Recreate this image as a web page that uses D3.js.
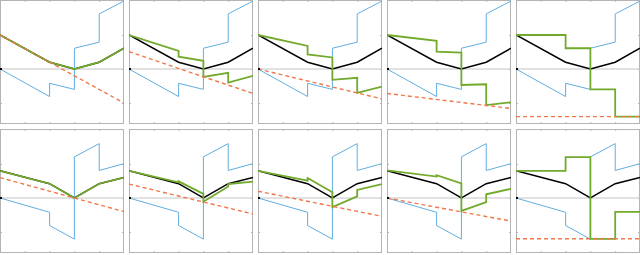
<!DOCTYPE html>
<html><head><meta charset="utf-8">
<script src="https://cdn.jsdelivr.net/npm/d3@7"></script>
<style>html,body{margin:0;padding:0;background:#fff;overflow:hidden}</style>
</head><body>
<svg id="chart" width="640" height="255"></svg>
<script>
// x nodes for step lines (jumps at x=2,3,4)
const stepX = [0, 2, 2, 3, 3, 4, 4, 5];
const smoothX = [0, 2, 3, 4, 5];
const redX = [0, 5];
const xTicks = [1, 2, 3, 4];
const yTicks = [-1, 0, 1];

// top row shared curves
const blackTop = [1.0, 0.2, 0.0, 0.2, 0.61];
const blueTop = [0, -0.81, -0.42, -0.6, 0.61, 0.79, 1.62, 2.0];
// bottom row shared curves
const blackBottom = [0.8, 0.42, 0.0, 0.42, 0.6];
const blueBottom = [0, -0.42, -0.81, -1.21, 1.21, 1.6, 0.81, 1.01];

// per-panel green (step) series
const greenTop = [
  [1.0, 0.2, 0.2, 0.0, 0.0, 0.2, 0.2, 0.61],
  [1.0, 0.53, 0.36, 0.24, -0.23, -0.11, -0.40, -0.20],
  [1.0, 0.68, 0.43, 0.34, -0.32, -0.26, -0.70, -0.52],
  [1.0, 0.83, 0.51, 0.48, -0.47, -0.45, -1.06, -0.98],
  [1.0, 1.0, 0.61, 0.61, -0.6, -0.6, -1.4, -1.4]
];
const greenBottom = [
  [0.8, 0.42, 0.42, 0.0, 0.0, 0.42, 0.42, 0.6],
  [0.8, 0.46, 0.49, 0.12, -0.11, 0.34, 0.41, 0.48],
  [0.8, 0.51, 0.59, 0.17, -0.27, 0.05, 0.24, 0.41],
  [0.81, 0.63, 0.67, 0.43, -0.38, -0.12, 0.11, 0.27],
  [0.8, 0.8, 1.2, 1.2, -1.2, -1.2, -0.41, -0.41]
];
// per-panel red dashed lines (values at x=0 and x=5)
const redTop = [[1.0, -1.0], [0.51, -0.72], [0.0, -0.88], [-0.72, -1.16], [-1.4, -1.4]];
const redBottom = [[0.6, -0.4], [0.41, -0.47], [0.2, -0.54], [0.0, -0.68], [-1.2, -1.2]];

const svg = d3.select("#chart");
const W = 124, H = 124, pitch = 129;
const x = d3.scaleLinear().domain([0, 5]).range([0, W]);
const y = d3.scaleLinear().domain([-55 / 34, 69 / 34]).range([H, 0]);
const line = d3.line().x(d => x(d[0])).y(d => y(d[1]));

const rows = [
  {black: blackTop, blue: blueTop, green: greenTop, red: redTop},
  {black: blackBottom, blue: blueBottom, green: greenBottom, red: redBottom}
];

rows.forEach((r, ri) => {
  for (let c = 0; c < 5; c++) {
    const g = svg.append("g").attr("transform", `translate(${c * pitch},${ri * pitch})`);
    g.append("defs").append("clipPath").attr("id", `clip${ri}${c}`)
      .append("rect").attr("width", W).attr("height", H);
    g.append("rect").attr("x", 0.5).attr("y", 0.5).attr("width", W - 1).attr("height", H - 1)
      .attr("fill", "#fff").attr("stroke", "#b4b4b4").attr("stroke-width", 1);
    const axStyle = s => { s.select(".domain").remove(); s.selectAll("line").attr("stroke", "#b4b4b4"); };
    g.append("g").call(d3.axisTop(x).tickValues(xTicks).tickSizeInner(-2).tickSizeOuter(0).tickFormat("")).call(axStyle);
    g.append("g").attr("transform", `translate(0,${H})`).call(d3.axisBottom(x).tickValues(xTicks).tickSizeInner(-2).tickSizeOuter(0).tickFormat("")).call(axStyle);
    g.append("g").call(d3.axisLeft(y).tickValues(yTicks).tickSizeInner(-2).tickSizeOuter(0).tickFormat("")).call(axStyle);
    g.append("g").attr("transform", `translate(${W},0)`).call(d3.axisRight(y).tickValues(yTicks).tickSizeInner(-2).tickSizeOuter(0).tickFormat("")).call(axStyle);
    // zero line
    g.append("line").attr("x1", 0).attr("x2", W).attr("y1", y(0)).attr("y2", y(0))
      .attr("stroke", "#c4c4c4").attr("stroke-width", 1);
    const pl = g.append("g").attr("clip-path", `url(#clip${ri}${c})`);
    pl.append("path").datum(stepX.map((v, i) => [v, r.blue[i]])).attr("d", line)
      .attr("fill", "none").attr("stroke", "#62aee0").attr("stroke-width", 1);
    pl.append("path").datum(smoothX.map((v, i) => [v, r.black[i]])).attr("d", line)
      .attr("fill", "none").attr("stroke", "#000").attr("stroke-width", 1.5);
    pl.append("path").datum(stepX.map((v, i) => [v, r.green[c][i]])).attr("d", line)
      .attr("fill", "none").attr("stroke", "#72aa2c").attr("stroke-width", 1.8);
    pl.append("path").datum(redX.map((v, i) => [v, r.red[c][i]])).attr("d", line)
      .attr("fill", "none").attr("stroke", "#f0784a").attr("stroke-width", 1.4)
      .attr("stroke-dasharray", "4,3");
    g.append("rect").attr("x", 0).attr("y", y(0) - 1).attr("width", 2).attr("height", 2).attr("fill", "#000");
  }
});
</script>
</body></html>
